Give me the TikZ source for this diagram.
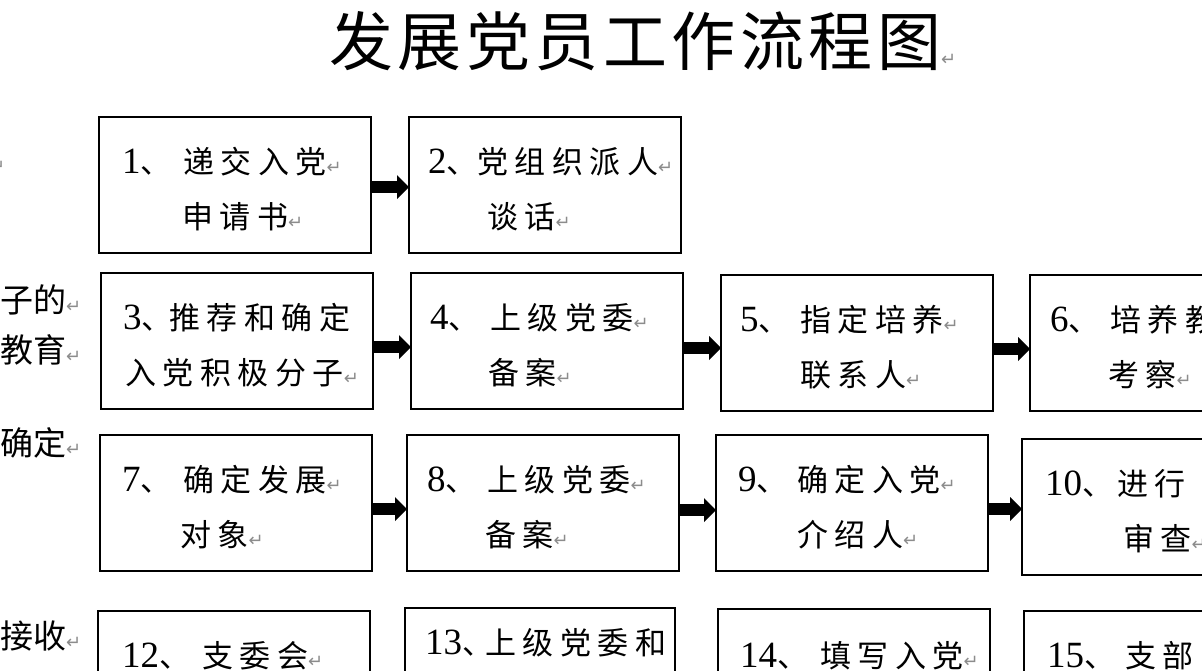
\documentclass[tikz,border=0pt]{standalone}
\usepackage{fontspec}
\setmainfont{Liberation Serif}
\newfontfamily\cjkfont{Noto Sans CJK SC}
\newfontfamily\cjkboxfont[LetterSpace=21]{Noto Sans CJK SC}
\newfontfamily\cjktitlefont[LetterSpace=7]{Noto Sans CJK SC}
\newfontfamily\symfont{DejaVu Sans}
\usetikzlibrary{arrows.meta}
\definecolor{pmgray}{gray}{0.55}
\newcommand\pmk{{\symfont\fontsize{18}{18}\selectfont\color{pmgray}↵}}
\newcommand\dg[1]{{\rmfamily\fontsize{37}{37}\selectfont #1}}
\tikzset{
  box/.style={draw, line width=1.6pt, minimum width=272pt, minimum height=136pt, inner sep=0pt, outer sep=0pt},
  txt/.style={anchor=west, inner sep=0pt, text height=27pt, text depth=4pt, font=\cjkboxfont\fontsize{31}{31}\selectfont},
  lab/.style={anchor=west, inner sep=0pt, text height=29pt, text depth=4pt, font=\cjkfont\fontsize{33}{33}\selectfont},
  blk/.style={line width=12pt, -{Triangle[length=12pt,width=24pt,line width=0pt]}}
}
% name, left, top, digit offset, prefix width, number, line 1, line-2 offset, line 2
\newcommand\bx[9]{%
  \node[box] (#1) at (#2+136,#3+68) {};
  \node[txt] (#1a) at ([shift={(#4,45)}]#1.north west) {\makebox[#5pt][l]{\dg{#6}、}#7};
  \node[txt] (#1b) at ([shift={(#8,100)}]#1.north west) {#9};
}
% single visible line: name, left, top, digit offset, prefix width, number, line, line offset
\newcommand\bxone[8]{%
  \node[box] (#1) at (#2+136,#3+68) {};
  \node[txt] (#1a) at ([shift={(#4,#8)}]#1.north west) {\makebox[#5pt][l]{\dg{#6}、}#7};
}
\newcommand\arr[3]{\draw[blk] ([yshift=#3]#1.east) -- ([yshift=#3]#1.east -| #2.west);}
\begin{document}
\begin{tikzpicture}[x=1pt,y=-1pt]
\useasboundingbox (0,0) rectangle (1202,670);
\fill[white] (0,0) rectangle (1202,670);
\clip (0,0) rectangle (1202,670);

\node[anchor=west, inner sep=0pt, text height=56pt, text depth=8pt, font=\cjktitlefont\fontsize{64}{64}\selectfont] (title) at (329,41) {发展党员工作流程图\pmk};

\node[lab] (l0) at (-10,160) {\pmk};
\node[lab] (l1) at (0,300) {子的\pmk};
\node[lab] (l2) at (0,350) {教育\pmk};
\node[lab] (l3) at (0,443) {确定\pmk};
\node[lab] (l4) at (0,636) {接收\pmk};

\bx{b1}{99}{117}{23}{61}{1}{递交入党\pmk}{83}{申请书\pmk}
\bx{b2}{409}{117}{19}{49}{2}{党组织派人\pmk}{78}{谈话\pmk}
\bx{b3}{101}{273}{22}{46}{3}{推荐和确定}{24}{入党积极分子\pmk}
\bx{b4}{411}{273}{19}{60}{4}{上级党委\pmk}{77}{备案\pmk}
\bx{b5}{721}{275}{19}{60}{5}{指定培养\pmk}{79}{联系人\pmk}
\bx{b6}{1030}{275}{20}{60}{6}{培养教}{78}{考察\pmk}
\bx{b7}{100}{435}{22}{61}{7}{确定发展\pmk}{80}{对象\pmk}
\bx{b8}{407}{435}{20}{60}{8}{上级党委\pmk}{78}{备案\pmk}
\bx{b9}{716}{435}{22}{59}{9}{确定入党\pmk}{81}{介绍人\pmk}
\bx{b10}{1022}{439}{23}{72}{10}{进行}{101}{审查\pmk}

\bxone{b12}{98}{611}{24}{80}{12}{支委会\pmk}{45}
\node[box, minimum width=270pt] (b13) at (405+135,608+68) {};
\node[txt] (b13a) at ([shift={(20,35)}]b13.north west) {\makebox[60pt][l]{\dg{13}、}上级党委和};
\bxone{b14}{718}{609}{22}{80}{14}{填写入党\pmk}{47}
\bxone{b15}{1024}{611}{23}{78}{15}{支部}{45}

\arr{b1}{b2}{-2pt}
\arr{b3}{b4}{-6pt}
\arr{b4}{b5}{-7pt}
\arr{b5}{b6}{-6pt}
\arr{b7}{b8}{-6pt}
\arr{b8}{b9}{-7pt}
\arr{b9}{b10}{-6pt}
\end{tikzpicture}
\end{document}
